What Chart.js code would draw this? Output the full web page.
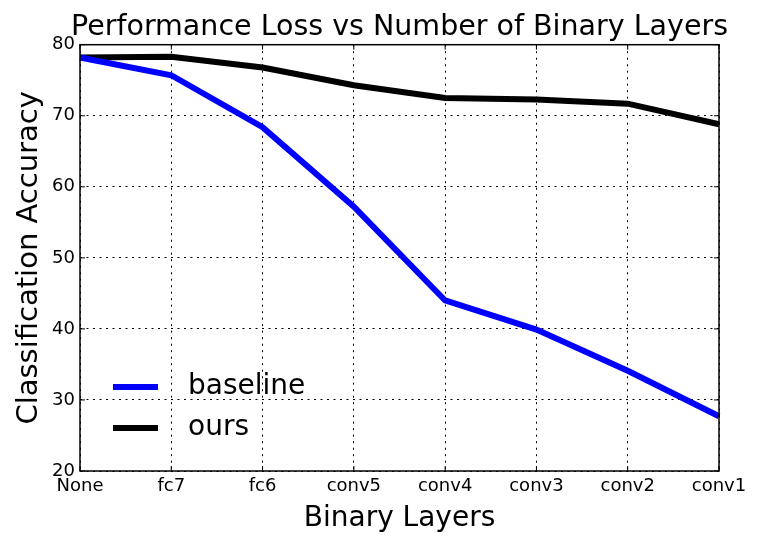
<!DOCTYPE html>
<html>
<head>
<meta charset="utf-8">
<script src="https://cdn.jsdelivr.net/npm/chart.js@4/dist/chart.umd.min.js"></script>
<style>
  body { margin: 0; background: #fff; }
  #wrap { width: 761px; height: 548px; }
</style>
</head>
<body>
<div id="wrap"><canvas id="myChart"></canvas></div>
<script>
const layers = ['None', 'fc7', 'fc6', 'conv5', 'conv4', 'conv3', 'conv2', 'conv1'];
const baseline = [78.2, 75.7, 68.4, 57.2, 44.0, 39.9, 34.1, 27.7];
const ours = [78.2, 78.3, 76.8, 74.3, 72.5, 72.3, 71.7, 68.8];
const yTicks = [20, 30, 40, 50, 60, 70, 80];
const chartTitle = 'Performance Loss vs Number of Binary Layers';

const font = "'DejaVu Sans', sans-serif";

// frame, inside tick marks, title over the axes and in-axes legend, like matplotlib classic
const framePlugin = {
    id: 'frame',
    afterDatasetsDraw(chart) {
        const { ctx, chartArea: a, scales } = chart;
        ctx.save();
        ctx.strokeStyle = '#000';
        ctx.lineWidth = 1;
        scales.x.ticks.forEach((t, i) => {
            const x = scales.x.getPixelForTick(i);
            ctx.beginPath();
            ctx.moveTo(x, a.bottom); ctx.lineTo(x, a.bottom - 5);
            ctx.moveTo(x, a.top); ctx.lineTo(x, a.top + 5);
            ctx.stroke();
        });
        yTicks.forEach((v) => {
            const y = scales.y.getPixelForValue(v);
            ctx.beginPath();
            ctx.moveTo(a.left, y); ctx.lineTo(a.left + 5, y);
            ctx.moveTo(a.right, y); ctx.lineTo(a.right - 5, y);
            ctx.stroke();
        });
        ctx.lineWidth = 1.5;
        ctx.strokeRect(a.left, a.top, a.right - a.left, a.bottom - a.top);

        // title
        ctx.fillStyle = '#000';
        ctx.font = '28.5px ' + font;
        ctx.textAlign = 'center';
        ctx.textBaseline = 'alphabetic';
        ctx.fillText(chartTitle, (a.left + a.right) / 2, 35);

        // legend
        ctx.font = '28px ' + font;
        ctx.textAlign = 'left';
        ctx.textBaseline = 'middle';
        chart.data.datasets.forEach((ds, i) => {
            const y = 387 + i * 41;
            ctx.strokeStyle = ds.borderColor;
            ctx.lineWidth = 6;
            ctx.beginPath();
            ctx.moveTo(113, y); ctx.lineTo(158, y);
            ctx.stroke();
            ctx.fillText(ds.label, 188, y);
        });
        ctx.restore();
    }
};

const data = {
    labels: layers,
    datasets: [
        {
            label: 'baseline',
            data: baseline,
            borderColor: '#0000ff',
            borderWidth: 6,
            pointRadius: 0,
            tension: 0
        },
        {
            label: 'ours',
            data: ours,
            borderColor: '#000000',
            borderWidth: 6,
            pointRadius: 0,
            tension: 0
        }
    ]
};

const config = {
    type: 'line',
    data: data,
    options: {
        responsive: true,
        maintainAspectRatio: false,
        animation: false,
        layout: { padding: { left: 0, right: 42, top: 44.7, bottom: 0 } },
        plugins: {
            legend: { display: false },
            tooltip: { enabled: false },
            title: { display: false }
        },
        scales: {
            x: {
                offset: false,
                grid: { color: '#000', lineWidth: 1, drawTicks: false },
                border: { display: false, dash: [2, 4.5] },
                ticks: { color: '#000', font: { family: font, size: 18 }, padding: 5, maxRotation: 0, autoSkip: false },
                title: {
                    display: true,
                    text: 'Binary Layers',
                    color: '#000',
                    font: { family: font, size: 28 },
                    padding: { top: 0, bottom: 12 }
                },
                afterFit(scale) { scale.height = 77; }
            },
            y: {
                min: 20,
                max: 80,
                grid: { color: '#000', lineWidth: 1, drawTicks: false },
                border: { display: false, dash: [2, 4.5] },
                afterBuildTicks(scale) { scale.ticks = yTicks.map(v => ({ value: v })); },
                ticks: { color: '#000', font: { family: font, size: 18 }, padding: 5 },
                title: {
                    display: true,
                    text: 'Classification Accuracy',
                    color: '#000',
                    font: { family: font, size: 29 },
                    padding: { top: 12, bottom: 0 }
                },
                afterFit(scale) { scale.width = 80; }
            }
        }
    },
    plugins: [framePlugin]
};

const myChart = new Chart(document.getElementById('myChart'), config);
</script>
</body>
</html>
